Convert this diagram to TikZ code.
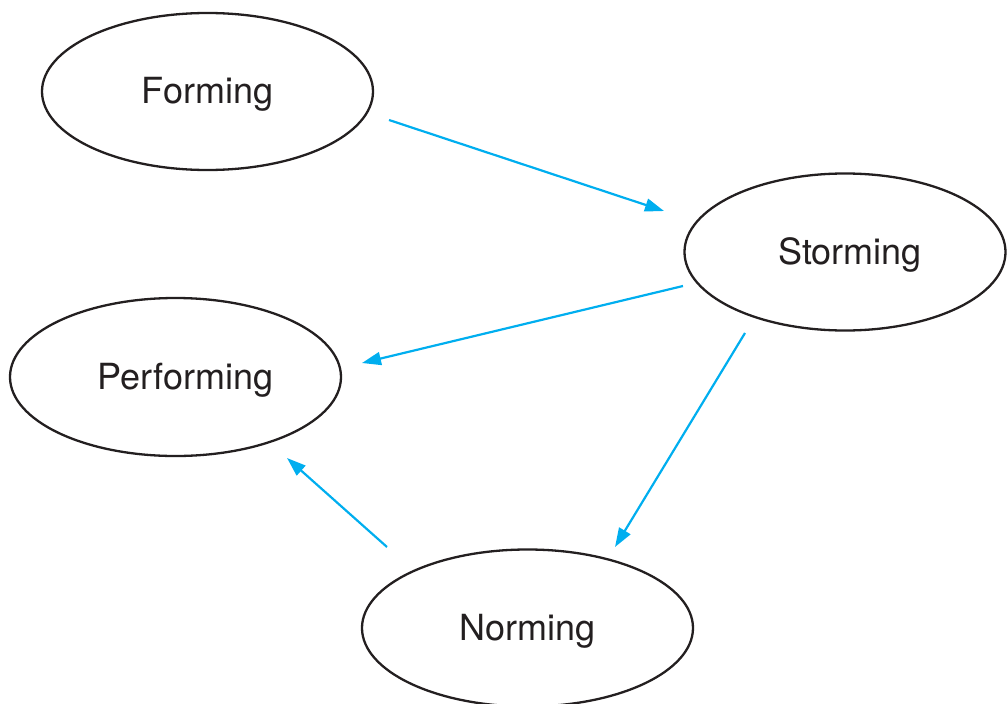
\documentclass[tikz,border=0pt]{standalone}
\usepackage{fontspec}
\setmainfont{TeX Gyre Heros}
\usetikzlibrary{shapes.geometric,arrows.meta}
\definecolor{flowblue}{RGB}{0,174,239}
\definecolor{inkgray}{RGB}{35,31,32}
\begin{document}
\begin{tikzpicture}[x=1pt,y=-1pt,
  stage/.style={ellipse,draw=inkgray,line width=2.3pt,inner sep=0pt,
    minimum width=331pt,minimum height=157pt},
  label/.style={font=\fontsize{36}{40}\selectfont,text=inkgray,inner sep=0pt},
  flow/.style={draw=flowblue,line width=2.2pt,
    -{Triangle[length=19pt,width=13pt]}}]
\useasboundingbox (0,0) rectangle (1007,704);
\node[stage] (forming) at (207.5,91.5) {};
\node[stage,minimum width=321pt] (storming) at (845,252) {};
\node[stage,minimum height=158pt] (performing) at (175.5,377) {};
\node[stage] (norming) at (527.5,628) {};
\node[label] (formingtext) at ([yshift=-3pt]forming.center) {Forming};
\node[label] (stormingtext) at ([xshift=5pt,yshift=-3pt]storming.center) {Storming};
\node[label] (performingtext) at ([xshift=10pt,yshift=-3pt]performing.center) {Performing};
\node[label] (normingtext) at ([yshift=-3pt]norming.center) {Norming};
% free-floating arrow ends between the stages
\coordinate (fs1) at (389,120);
\coordinate (fs2) at (664,211);
\coordinate (sp1) at (683,286);
\coordinate (sp2) at (362,363);
\coordinate (sn1) at (745,333);
\coordinate (sn2) at (615,547);
\coordinate (np1) at (387,547);
\coordinate (np2) at (287,458);
\draw[flow] (fs1) -- (fs2);
\draw[flow] (sp1) -- (sp2);
\draw[flow] (sn1) -- (sn2);
\draw[flow] (np1) -- (np2);
\end{tikzpicture}
\end{document}
